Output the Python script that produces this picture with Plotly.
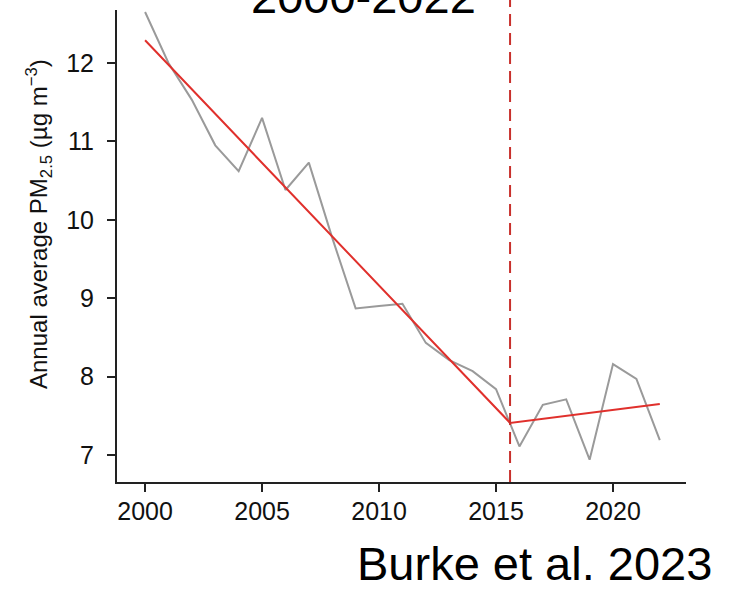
import plotly.graph_objects as go

# Annual average PM2.5 concentration, 2000-2022
years = list(range(2000, 2023))
pm25 = [12.65, 12.00, 11.53, 10.95, 10.62, 11.30, 10.38, 10.73, 9.77, 8.87,
        8.90, 8.93, 8.43, 8.21, 8.07, 7.84, 7.11, 7.64, 7.71, 6.94,
        8.16, 7.97, 7.19]

# Piecewise linear trend with a breakpoint
break_year = 2015.6
fit_years = [2000, break_year, 2022]
fit_values = [12.29, 7.41, 7.65]

x_ticks = [2000, 2005, 2010, 2015, 2020]
y_ticks = [7, 8, 9, 10, 11, 12]

title_text = "2000-2022"
source_text = "Burke et al. 2023"
y_title = "Annual average PM<sub>2.5</sub> (µg m<sup>−3</sup>)"

FONT = "Liberation Sans, Arial, Helvetica, sans-serif"
W, H = 735, 603
L, R, T, B = 117, 49, 10, 121
PW, PH = W - L - R, H - T - B


def px_x(px):
    return (px - L) / PW


def px_y(py):
    return (H - B - py) / PH


fig = go.Figure()

fig.add_trace(go.Scatter(
    x=years, y=pm25, mode="lines",
    line=dict(color="#9a9a9a", width=2),
    hoverinfo="skip", showlegend=False,
))

fig.add_trace(go.Scatter(
    x=fit_years, y=fit_values, mode="lines",
    line=dict(color="#e0302c", width=2),
    hoverinfo="skip", showlegend=False,
))

# Breakpoint marker
fig.add_shape(
    type="line", xref="x", yref="paper",
    x0=break_year, x1=break_year, y0=0, y1=1.04,
    line=dict(color="#c8302c", width=2, dash="12px,7px"),
)

axis_common = dict(
    showgrid=False, zeroline=False, showline=True,
    linecolor="#222222", linewidth=2,
    ticks="outside", ticklen=8, tickwidth=2, tickcolor="#222222",
    tickfont=dict(family=FONT, size=25, color="#111111"),
    fixedrange=True,
)

fig.update_layout(
    width=W, height=H,
    margin=dict(l=L, r=R, t=T, b=B, pad=0),
    paper_bgcolor="white", plot_bgcolor="white",
    xaxis=dict(range=[1998.8, 2023.12], tickvals=x_ticks,
               ticklabelstandoff=-2, **axis_common),
    yaxis=dict(range=[6.656, 12.676], tickvals=y_ticks,
               ticklabelstandoff=8, **axis_common),
    annotations=[
        dict(text=title_text, xref="paper", yref="paper",
             x=px_x(363), y=px_y(-4), xanchor="center", yanchor="middle",
             showarrow=False, font=dict(family=FONT, size=47, color="black")),
        dict(text=source_text, xref="paper", yref="paper",
             x=px_x(534), y=px_y(563), xanchor="center", yanchor="middle",
             showarrow=False, font=dict(family=FONT, size=47, color="black")),
        dict(text=y_title, xref="paper", yref="paper",
             x=px_x(39), y=px_y(224), xanchor="center", yanchor="middle",
             textangle=-90, showarrow=False,
             font=dict(family=FONT, size=24, color="#111111")),
    ],
)

fig.write_html("out.html")
